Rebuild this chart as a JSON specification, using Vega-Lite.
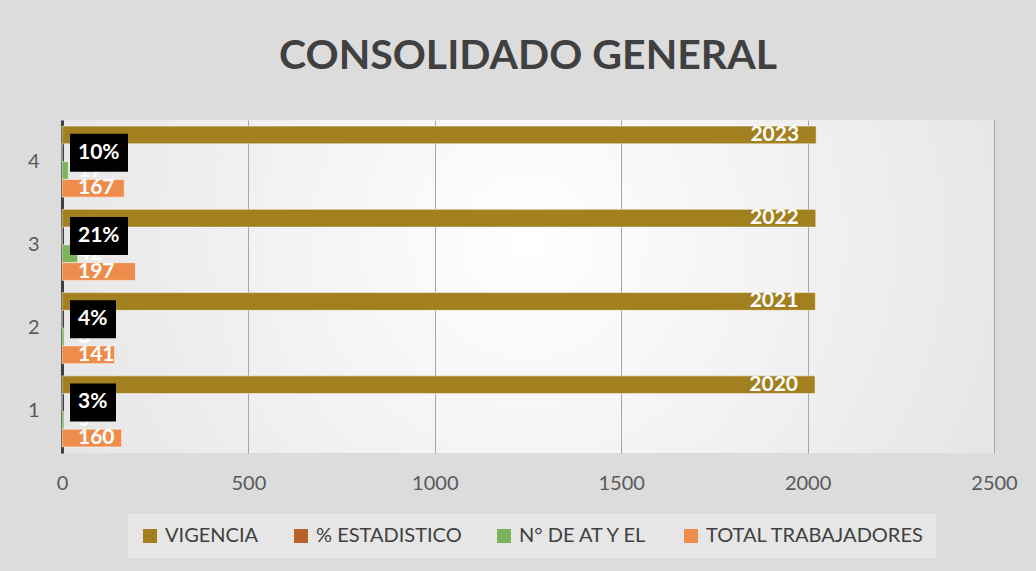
{
  "$schema": "https://vega.github.io/schema/vega-lite/v6.json",
  "width": 932,
  "height": 333,
  "autosize": {"type": "none"},
  "padding": {"left": 62, "top": 120, "right": 42, "bottom": 118},
  "background": "#dcdcdc",
  "title": {
    "text": "CONSOLIDADO GENERAL",
    "font": "Lato",
    "fontSize": 41,
    "fontWeight": "bold",
    "color": "#404040",
    "anchor": "middle",
    "baseline": "alphabetic",
    "offset": 10
  },
  "config": {
    "font": "Lato",
    "view": {
      "stroke": null,
      "fill": {
        "gradient": "radial",
        "x1": 0.5, "y1": 0.45, "x2": 0.5, "y2": 0.45,
        "r1": 0, "r2": 0.75,
        "stops": [
          {"offset": 0, "color": "#ffffff"},
          {"offset": 1, "color": "#dcdcdc"}
        ]
      }
    }
  },
  "data": {
    "values": [
      {"cat": "1", "series": "VIGENCIA", "value": 2020},
      {"cat": "1", "series": "% ESTADISTICO", "value": 0.03},
      {"cat": "1", "series": "N° DE AT Y EL", "value": 5},
      {"cat": "1", "series": "TOTAL TRABAJADORES", "value": 160},
      {"cat": "2", "series": "VIGENCIA", "value": 2021},
      {"cat": "2", "series": "% ESTADISTICO", "value": 0.04},
      {"cat": "2", "series": "N° DE AT Y EL", "value": 6},
      {"cat": "2", "series": "TOTAL TRABAJADORES", "value": 141},
      {"cat": "3", "series": "VIGENCIA", "value": 2022},
      {"cat": "3", "series": "% ESTADISTICO", "value": 0.21},
      {"cat": "3", "series": "N° DE AT Y EL", "value": 42},
      {"cat": "3", "series": "TOTAL TRABAJADORES", "value": 197},
      {"cat": "4", "series": "VIGENCIA", "value": 2023},
      {"cat": "4", "series": "% ESTADISTICO", "value": 0.10},
      {"cat": "4", "series": "N° DE AT Y EL", "value": 17},
      {"cat": "4", "series": "TOTAL TRABAJADORES", "value": 167}
    ]
  },
  "encoding": {
    "y": {
      "field": "cat",
      "type": "ordinal",
      "sort": "descending",
      "scale": {"paddingInner": 0, "paddingOuter": 0},
      "axis": {
        "title": null,
        "domain": true,
        "domainColor": "#404040",
        "domainWidth": 3,
        "ticks": false,
        "grid": false,
        "labelFontSize": 20,
        "labelColor": "#595959",
        "labelPadding": 23,
        "labelAngle": 0
      }
    },
    "yOffset": {
      "field": "series",
      "type": "nominal",
      "sort": ["VIGENCIA", "% ESTADISTICO", "N° DE AT Y EL", "TOTAL TRABAJADORES"],
      "scale": {"paddingInner": 0, "paddingOuter": 0.345}
    }
  },
  "layer": [
    {
      "mark": {"type": "bar", "stroke": "#ffffff", "strokeOpacity": 0.5, "strokeWidth": 1},
      "encoding": {
        "x": {
          "field": "value",
          "type": "quantitative",
          "scale": {"domain": [0, 2500], "nice": false},
          "axis": {
            "title": null,
            "domain": false,
            "ticks": false,
            "grid": true,
            "gridColor": "#a6a6a6",
            "gridWidth": 1,
            "values": [0, 500, 1000, 1500, 2000, 2500],
            "format": "d",
            "labelFlush": false,
            "labelFontSize": 20,
            "labelColor": "#595959",
            "labelPadding": 20
          }
        },
        "color": {
          "field": "series",
          "type": "nominal",
          "scale": {
            "domain": ["VIGENCIA", "% ESTADISTICO", "N° DE AT Y EL", "TOTAL TRABAJADORES"],
            "range": ["#A3801F", "#B5612B", "#7EB35E", "#EE8C4B"]
          },
          "legend": {
            "title": null,
            "orient": "none",
            "legendX": 66,
            "legendY": 394,
            "direction": "horizontal",
            "symbolType": "square",
            "symbolSize": 196,
            "symbolStrokeWidth": 0,
            "labelFontSize": 20,
            "labelColor": "#404040",
            "labelOffset": 5,
            "labelLimit": 400,
            "columnPadding": 32,
            "padding": 12,
            "fillColor": "#e6e6e6"
          }
        }
      }
    },
    {
      "transform": [{"filter": "datum.series === 'N° DE AT Y EL' || datum.series === 'TOTAL TRABAJADORES'"}],
      "mark": {"type": "text", "align": "left", "baseline": "middle", "dx": 16, "fontSize": 21, "fontWeight": "bold", "color": "#ffffff"},
      "encoding": {
        "x": {"datum": 0, "type": "quantitative"},
        "text": {"field": "value", "type": "quantitative", "format": "d"}
      }
    },
    {
      "transform": [{"filter": "datum.series === 'VIGENCIA'"}],
      "mark": {"type": "text", "align": "right", "baseline": "middle", "dx": -17, "fontSize": 21, "fontWeight": "bold", "color": "#ffffff"},
      "encoding": {
        "x": {"field": "value", "type": "quantitative"},
        "text": {"field": "value", "type": "quantitative", "format": "d"}
      }
    },
    {
      "transform": [{"filter": "datum.series === '% ESTADISTICO'"}],
      "mark": {"type": "point", "filled": true, "fill": "#000000", "opacity": 1, "fillOpacity": 1, "strokeWidth": 0, "size": 3364},
      "encoding": {
        "x": {"datum": 0, "type": "quantitative"},
        "shape": {
          "condition": {"test": "datum.value >= 0.1", "value": "M0.276,-0.655L2.276,-0.655L2.276,0.655L0.276,0.655Z"},
          "value": "M0.276,-0.655L1.862,-0.655L1.862,0.655L0.276,0.655Z"
        }
      }
    },
    {
      "transform": [{"filter": "datum.series === '% ESTADISTICO'"}],
      "mark": {"type": "text", "align": "left", "baseline": "middle", "dx": 16, "fontSize": 21, "fontWeight": "bold", "color": "#ffffff"},
      "encoding": {
        "x": {"datum": 0, "type": "quantitative"},
        "text": {"field": "value", "type": "quantitative", "format": ".0%"}
      }
    }
  ]
}
